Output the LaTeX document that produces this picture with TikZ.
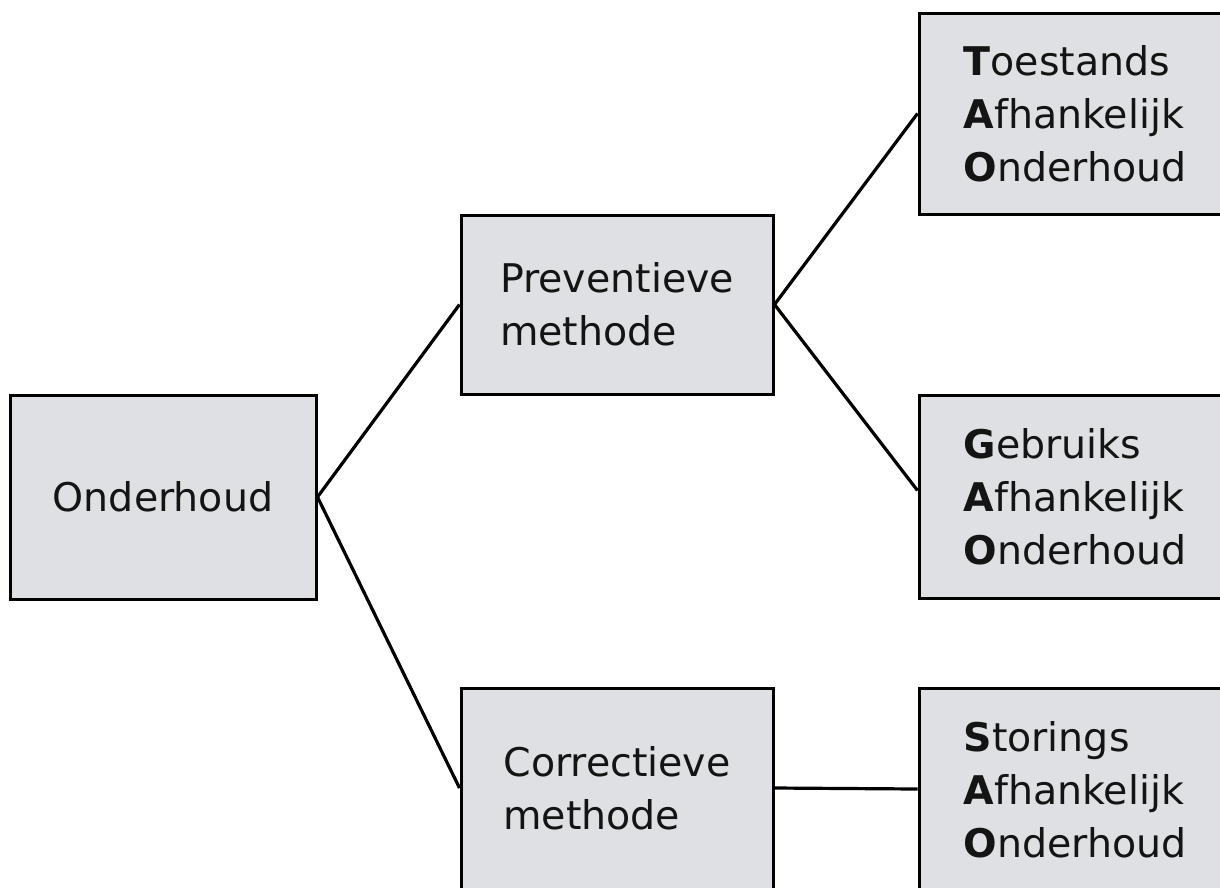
\documentclass[tikz,border=0pt]{standalone}
\usepackage{fontspec}
\setmainfont{DejaVu Sans}
\definecolor{boxfill}{RGB}{222,224,227}
\definecolor{inkcol}{RGB}{20,20,20}
\begin{document}
\begin{tikzpicture}[x=1pt,y=-1pt,
  box/.style={draw=black, line width=3pt, fill=boxfill, rectangle, align=left,
    minimum width=312pt, inner sep=0pt, text=inkcol,
    font=\fontsize{39.5}{53}\selectfont},
  link/.style={draw=black, line width=3.2pt}]
\useasboundingbox (0,0) rectangle (1220,887);
\node[box, minimum width=306pt, minimum height=204pt] (ond) at (163,497) {Onderhoud};
\node[box, minimum height=179pt] (prev) at (617,304.5) {Preventieve\\methode};
\node[box, minimum height=253pt] (corr) at (617,814.5) {Correctieve\\methode\\\mbox{}};
\node[box, minimum height=201pt] (taoh) at (1075,113.5) {\textbf{T}oestands\\\textbf{A}fhankelijk\\\textbf{O}nderhoud};
\node[box, minimum height=203pt] (gaoh) at (1075,496.5) {\textbf{G}ebruiks\\\textbf{A}fhankelijk\\\textbf{O}nderhoud};
\node[box, minimum height=255pt] (saoh) at (1075,815.5) {\textbf{S}torings\\\textbf{A}fhankelijk\\\textbf{O}nderhoud\\\mbox{}};
\coordinate (corrW) at ([yshift=26.5pt]corr.west);
\coordinate (corrE) at ([yshift=26.5pt]corr.east);
\coordinate (saohW) at ([yshift=26.5pt]saoh.west);
\draw[link] (ond.east) -- (prev.west);
\draw[link] (ond.east) -- (corrW);
\draw[link] (prev.east) -- (taoh.west);
\draw[link] (prev.east) -- ([yshift=6pt]gaoh.west);
\draw[link] (corrE) -- (saohW);
\end{tikzpicture}
\end{document}
